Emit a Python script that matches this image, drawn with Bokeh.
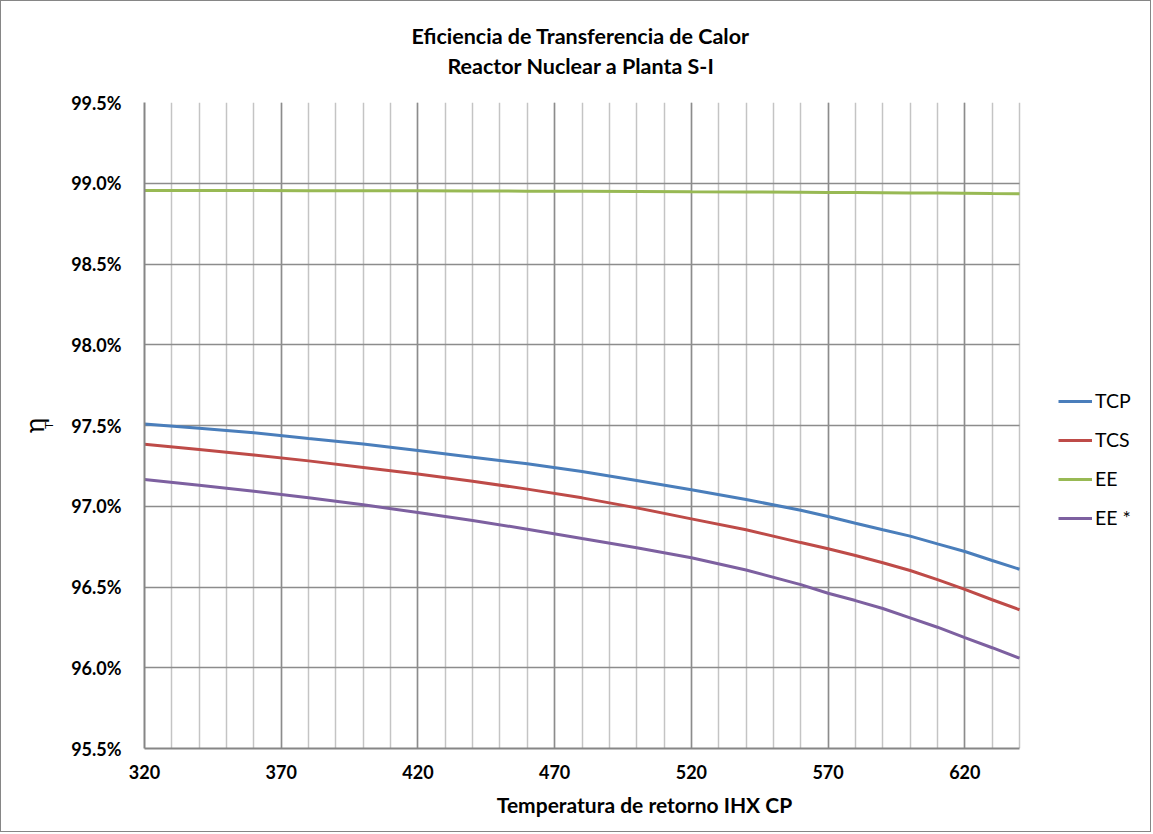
from bokeh.plotting import figure
from bokeh.models import (FixedTicker, PrintfTickFormatter, Range1d, Legend, LegendItem,
                          Title, LinearAxis)
from bokeh.embed import file_html
from bokeh.resources import INLINE

# ---- data ----
temps = [320, 340, 360, 380, 400, 420, 440, 460, 480, 500, 520, 540, 560, 570,
         580, 590, 600, 610, 620, 630, 640]
tcp = [97.510, 97.483, 97.455, 97.420, 97.386, 97.345, 97.304, 97.263, 97.215, 97.159,
       97.102, 97.042, 96.975, 96.937, 96.895, 96.854, 96.815, 96.767, 96.720, 96.664, 96.610]
tcs = [97.384, 97.351, 97.318, 97.281, 97.240, 97.199, 97.155, 97.106, 97.052, 96.990,
       96.922, 96.854, 96.775, 96.737, 96.695, 96.650, 96.602, 96.546, 96.485, 96.421, 96.359]
ee = [98.955, 98.955, 98.955, 98.954, 98.954, 98.953, 98.952, 98.951, 98.950, 98.949,
      98.947, 98.946, 98.944, 98.943, 98.942, 98.941, 98.940, 98.939, 98.938, 98.936, 98.935]
ee_star = [97.166, 97.130, 97.093, 97.052, 97.009, 96.961, 96.912, 96.858, 96.800, 96.743,
           96.681, 96.605, 96.515, 96.461, 96.416, 96.367, 96.309, 96.251, 96.187, 96.124, 96.059]
series_names = ["TCP", "TCS", "EE", "EE *"]
series_colors = ["#4A7EBB", "#BE4B48", "#98B954", "#7D60A0"]
x_major = [320, 370, 420, 470, 520, 570, 620]
x_minor = list(range(320, 641, 10))
y_major = [95.5, 96.0, 96.5, 97.0, 97.5, 98.0, 98.5, 99.0, 99.5]
x_min, x_max = 320, 640
y_min, y_max = 95.5, 99.5
title_lines = ["Eficiencia de Transferencia de Calor", "Reactor Nuclear a Planta S-I"]
x_label = "Temperatura de retorno IHX CP"
y_label_main = "η"
y_label_sub = "T"

FONT = "Lato"

# ---- layout (pixels) ----
W, H = 1151, 832
B_LEFT, B_RIGHT, B_TOP, B_BOTTOM = 143, 8, 101, 85
PLOT_W = 875                       # pixel width of the 320..640 box
frame_w = W - B_LEFT - B_RIGHT
x_end = x_min + (x_max - x_min) * frame_w / PLOT_W

p = figure(width=W, height=H, output_backend="svg", toolbar_location=None,
           x_range=Range1d(x_min, x_end), y_range=Range1d(y_min, y_max),
           min_border_left=B_LEFT, min_border_right=B_RIGHT,
           min_border_top=B_TOP, min_border_bottom=B_BOTTOM,
           styles={"border": "1px solid #868686"})
p.outline_line_color = None

renderers = []
for ys, c in zip([tcp, tcs, ee, ee_star], series_colors):
    r = p.line(temps, ys, line_color=c, line_width=3)
    renderers.append(r)

# axes
p.xaxis.ticker = FixedTicker(ticks=x_major, minor_ticks=x_minor)
p.yaxis.ticker = FixedTicker(ticks=y_major)
p.yaxis.formatter = PrintfTickFormatter(format="%.1f%%")
p.xaxis.bounds = (x_min, x_max)
for ax in (p.xaxis[0], p.yaxis[0]):
    ax.major_tick_line_color = None
    ax.minor_tick_line_color = None
    ax.major_tick_out = 0
    ax.minor_tick_out = 0
    ax.axis_line_color = "#868686"
    ax.axis_line_width = 2
    ax.major_label_text_font = FONT
    ax.major_label_text_font_style = "bold"
    ax.major_label_text_font_size = "18px"
    ax.major_label_text_color = "#000000"
p.xaxis.major_label_standoff = 16
p.yaxis.major_label_standoff = 23
p.xaxis.axis_label = x_label
p.xaxis.axis_label_text_font = FONT
p.xaxis.axis_label_text_font_style = "bold"
p.xaxis.axis_label_text_font_size = "21px"
p.xaxis.axis_label_text_color = "#000000"
p.xaxis.axis_label_standoff = 10

# y label: subscript T on the main axis, eta on an outer blank axis
p.yaxis.axis_label = y_label_sub
p.yaxis.axis_label_text_font = FONT
p.yaxis.axis_label_text_font_style = "normal"
p.yaxis.axis_label_text_font_size = "12px"
p.yaxis.axis_label_text_color = "#000000"
p.yaxis.axis_label_standoff = 12

eta_axis = LinearAxis(ticker=FixedTicker(ticks=[]), axis_line_color=None,
                      major_tick_line_color=None, minor_tick_line_color=None,
                      major_tick_out=0, minor_tick_out=0, major_label_standoff=0,
                      axis_label=y_label_main, axis_label_standoff=-11,
                      axis_label_text_font=FONT, axis_label_text_font_style="normal",
                      axis_label_text_font_size="26px", axis_label_text_color="#000000")
p.add_layout(eta_axis, "left")

# grid (limited to the data box)
p.xgrid.grid_line_color = "#8c8c8c"
p.xgrid.grid_line_width = 1.5
p.xgrid.minor_grid_line_color = "#c4c4c4"
p.xgrid.minor_grid_line_width = 1.5
p.ygrid.grid_line_color = "#8c8c8c"
p.ygrid.grid_line_width = 1.5
p.ygrid.cross_bounds = (x_min, x_max)

# title: an invisible spacer nearest the plot, then line 2, then line 1
p.add_layout(Title(text=" ", text_font=FONT, text_font_size="1px", standoff=21,
                   text_color="#ffffff"), "above")
p.add_layout(Title(text=title_lines[1], align="left", offset=303, standoff=0,
                   text_font=FONT, text_font_style="bold", text_font_size="21.5px",
                   text_color="#000000"), "above")
p.add_layout(Title(text=title_lines[0], align="left", offset=267, standoff=4,
                   text_font=FONT, text_font_style="bold", text_font_size="21.5px",
                   text_color="#000000"), "above")

legend = Legend(items=[LegendItem(label=n, renderers=[r]) for n, r in zip(series_names, renderers)],
                location=(914, 219), orientation="vertical",
                glyph_width=34, glyph_height=22, label_height=22, spacing=16,
                padding=0, margin=0, label_standoff=3,
                label_text_font=FONT, label_text_font_size="19.5px", label_text_color="#000000",
                border_line_color=None, background_fill_alpha=0)
p.add_layout(legend, "center")

open("out.html", "w").write(file_html(p, INLINE))
